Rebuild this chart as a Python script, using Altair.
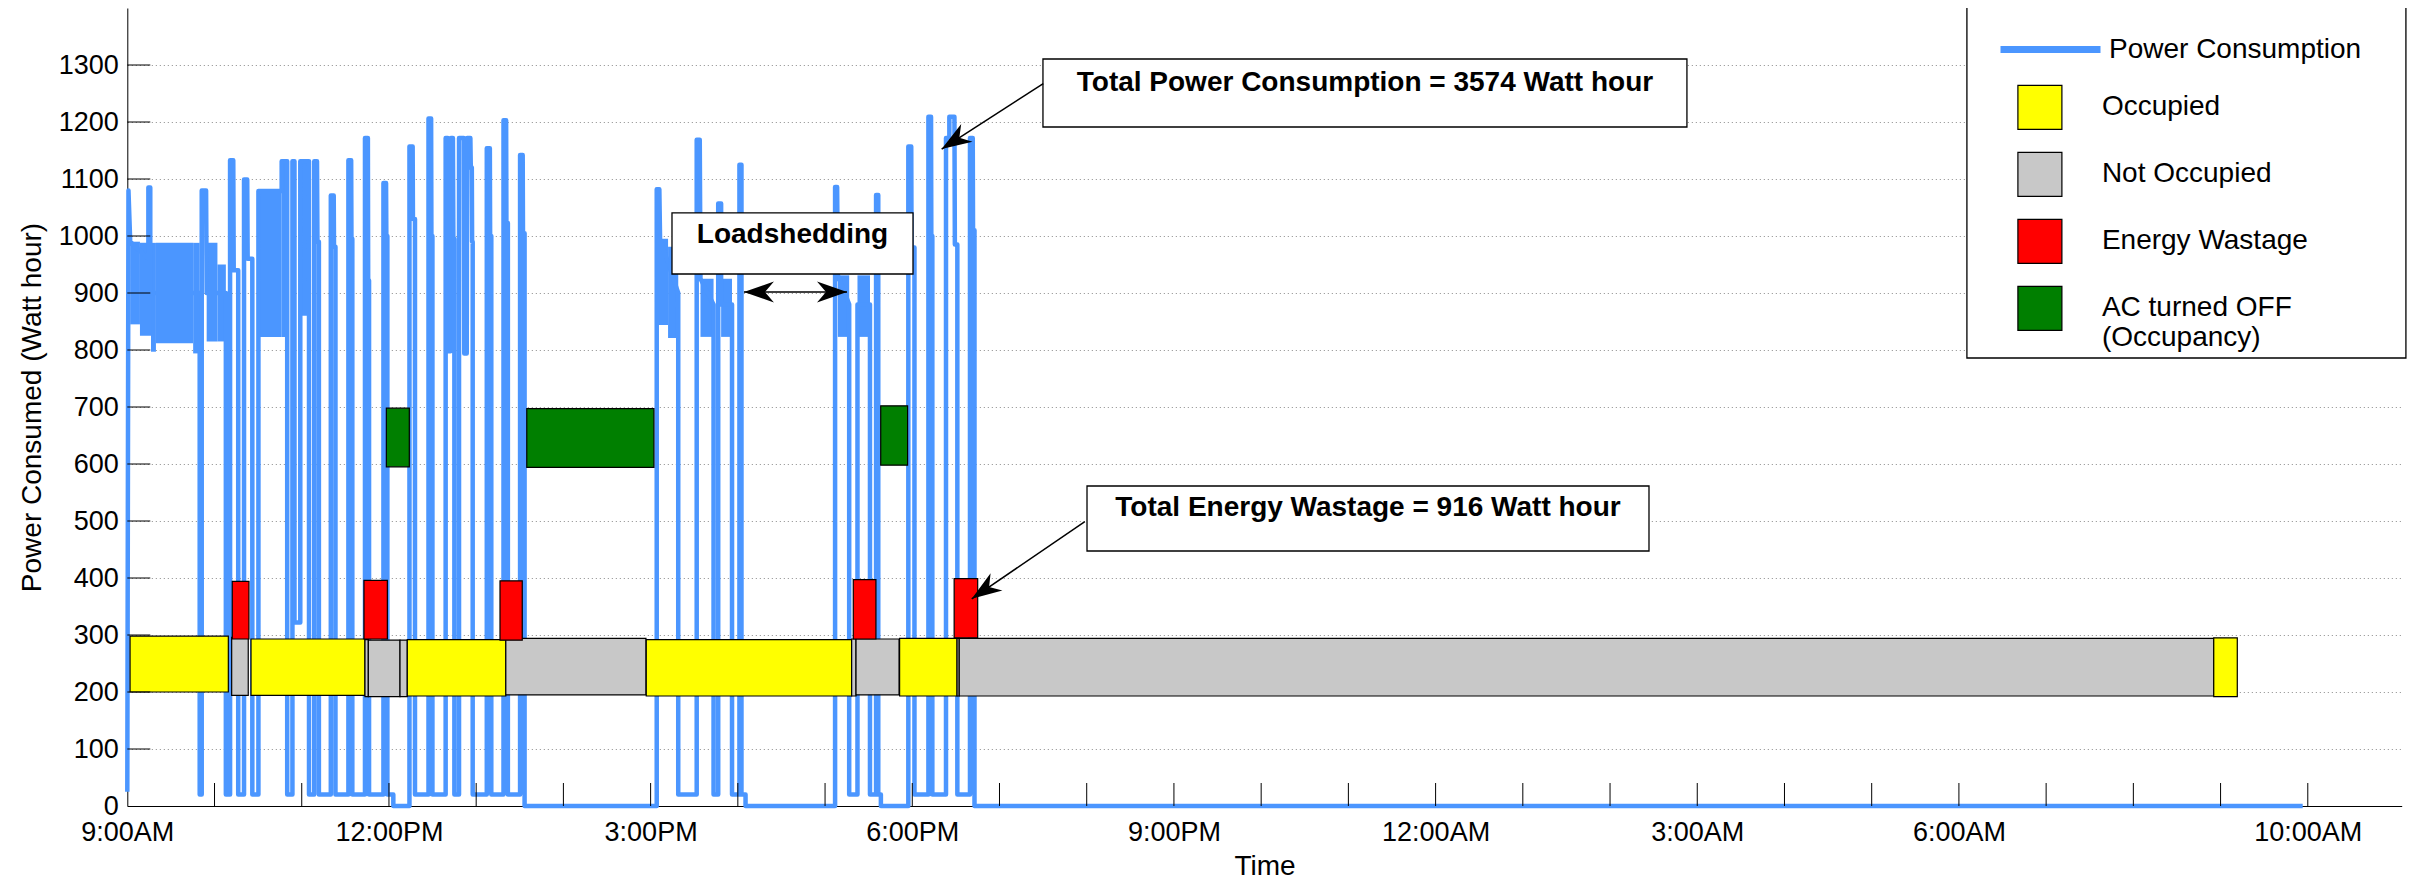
import altair as alt
import pandas as pd

FONT = "Liberation Sans, Arial, Helvetica, sans-serif"
BLUE = "#4B96FF"
START = pd.Timestamp("2014-01-01 09:00:00")

# ---------------- data (time in minutes after 9:00 AM) ----------------
power_minutes = [
    0.0, 0.8, 2.0, 14.5, 14.5, 15.8, 15.8, 49.8, 49.8, 51.2, 51.2, 54.2, 54.6, 67.8, 67.8,
    70.7, 70.7, 72.9, 73.2, 76.3, 76.3,
    80.3, 80.3, 82.5, 82.8, 86.0, 86.0,
    90.2, 90.2, 106.2, 106.2, 110.0, 110.0, 113.6, 113.6, 115.0, 115.0, 119.0, 119.0, 125.0, 125.0,
    128.6, 128.6, 130.5, 130.8, 131.8, 131.8,
    140.0, 140.0, 142.0, 142.2, 143.2, 143.2,
    152.1, 152.1, 154.0, 154.2, 154.8, 154.8,
    163.5, 163.5, 165.5, 165.7, 166.3, 166.3,
    176.2, 176.2, 178.0, 178.2, 178.9, 178.9,
    183.0, 183.0,
    194.1, 194.1, 196.3, 196.5, 197.9, 197.9,
    207.2, 207.2, 209.0, 209.2, 209.9, 209.9,
    219.0, 219.0, 220.5, 220.8, 222.3, 222.6, 224.0, 224.3, 225.0, 225.0,
    228.2, 228.2, 231.5, 231.8, 233.5, 233.8, 236.0, 236.3, 237.0, 237.2, 237.6, 237.6,
    247.3, 247.3, 249.4, 249.6, 250.4, 250.4,
    258.8, 258.8, 260.6, 260.8, 261.8, 261.8,
    270.2, 270.2, 272.0, 272.2, 273.3, 273.3,
    364.2, 364.2, 366.0, 366.5, 379.0, 379.0,
    391.7, 391.7, 393.8, 394.3, 403.3, 403.3, 406.5, 406.5, 408.5, 408.5, 416.0, 416.0,
    421.1, 421.1, 422.5, 422.5, 425.3, 425.3,
    486.9, 486.9, 488.3, 488.8, 496.6, 496.6, 502.3, 502.3, 510.9, 510.9,
    515.1, 515.1, 516.6, 516.6, 518.4, 518.4,
    537.3, 537.3, 539.3, 539.5, 541.5, 541.5,
    551.1, 551.1, 552.9, 553.1, 553.8, 553.8,
    563.2, 563.2, 565.5, 565.5, 569.0, 569.3, 571.0, 571.0,
    579.7, 579.7, 581.6, 581.8, 582.8, 582.8, 1496.5,
]
power_watts = [
    25, 1080, 990, 960, 1085, 1085, 900, 900, 20, 20, 1080, 1080, 900, 900, 20,
    20, 1133, 1133, 940, 940, 20,
    20, 1099, 1099, 960, 960, 20,
    20, 1079, 1079, 1131, 1131, 20, 20, 1131, 1131, 322, 322, 1131, 1131, 20,
    20, 1131, 1131, 990, 990, 20,
    20, 1071, 1071, 981, 981, 20,
    20, 1133, 1133, 995, 995, 20,
    20, 1172, 1172, 922, 922, 20,
    20, 1093, 1093, 1000, 1000, 20,
    20, 0,
    0, 1157, 1157, 1030, 1030, 20,
    20, 1206, 1206, 1000, 1000, 20,
    20, 1172, 1172, 798, 798, 1172, 1172, 995, 995, 20,
    20, 1172, 1172, 794, 794, 1172, 1172, 1120, 1120, 990, 990, 20,
    20, 1154, 1154, 1000, 1000, 20,
    20, 1203, 1203, 1023, 1023, 20,
    20, 1142, 1142, 1005, 1005, 0,
    0, 1082, 1082, 995, 900, 20,
    20, 1169, 1169, 925, 880, 20, 20, 1057, 1057, 880, 880, 20,
    20, 1125, 1125, 20, 20, 0,
    0, 1086, 1086, 931, 880, 20, 20, 880, 880, 20,
    20, 1072, 1072, 20, 20, 0,
    0, 1157, 1157, 980, 980, 20,
    20, 1209, 1209, 1000, 1000, 20,
    20, 1172, 1172, 1209, 1209, 985, 985, 20,
    20, 1172, 1172, 1010, 1010, 0, 0,
]

# dense high-frequency stretches of the consumption trace (min/max envelope)
band_start = [2.0, 8.7, 16.3, 19.7, 45.3, 54.6, 62.0, 90.2, 106.2, 119.0, 364.2, 372.0, 394.3, 408.5, 488.8, 502.3]
band_end = [8.7, 16.3, 19.7, 45.3, 49.8, 62.0, 67.8, 106.2, 110.0, 125.0, 372.0, 379.0, 403.3, 416.0, 496.6, 510.9]
band_low = [845, 825, 797, 812, 794, 815, 815, 823, 823, 860, 844, 821, 823, 823, 823, 823]
band_high = [990, 988, 988, 988, 988, 988, 950, 1079, 1131, 1131, 995, 981, 925, 925, 931, 931]

kinds = ["Occupied", "Not Occupied", "Energy Wastage", "AC turned OFF (Occupancy)"]
kind_colors = ["#FFFF00", "#C8C8C8", "#FF0000", "#007F00"]

bar_kind = [
    "Occupied", "Not Occupied", "Occupied", "Not Occupied", "Not Occupied", "Not Occupied",
    "Occupied", "Not Occupied", "Occupied", "Not Occupied", "Not Occupied", "Occupied",
    "Not Occupied", "Not Occupied", "Occupied",
    "Energy Wastage", "Energy Wastage", "Energy Wastage", "Energy Wastage", "Energy Wastage",
    "AC turned OFF (Occupancy)", "AC turned OFF (Occupancy)", "AC turned OFF (Occupancy)",
]
bar_start = [1.9, 71.8, 85.1, 163.5, 165.8, 187.6, 192.6, 260.4, 357.0, 498.3, 501.3, 531.3,
             570.8, 572.3, 1435.3, 72.2, 162.8, 256.4, 499.4, 568.8, 178.2, 274.8, 518.3]
bar_end = [69.5, 83.2, 163.5, 165.8, 187.6, 192.6, 260.4, 356.8, 498.3, 501.3, 530.9, 570.8,
           572.3, 1435.3, 1451.5, 83.7, 178.9, 271.7, 515.0, 585.0, 194.0, 362.3, 536.8]
bar_low = [200, 194, 194, 192, 192, 192, 193, 195, 193, 193, 195, 193,
           193, 193, 192, 293, 293, 291, 293, 295, 595, 594, 598]
bar_high = [298, 296, 293, 292, 291, 291, 292, 294, 292, 293, 293, 294,
            294, 294, 295, 394, 396, 395, 397, 399, 698, 697, 702]

# annotations
note_text = ["Total Power Consumption = 3574 Watt hour", "Total Energy Wastage = 916 Watt hour", "Loadshedding"]
note_text_min = [851.4, 853.5, 457.6]
note_text_w = [1268.4, 522.8, 1000.9]
box_start = [629.9, 660.2, 374.7, 1265.5]
box_end = [1072.9, 1046.8, 540.5, 1567.5]
box_low = [1191.2, 447.4, 933.3, 786.0]
box_high = [1310.5, 561.4, 1040.4, 1403.5]
arrow_from_min = [630.1, 658.7, 424.2]
arrow_from_w = [1267.2, 498.8, 901.8]
arrow_to_min = [560.2, 580.9, 495.1]
arrow_to_w = [1152.6, 363.5, 901.8]
head_min = [560.2, 580.9, 424.2, 495.1]
head_w = [1152.6, 363.5, 901.8, 901.8]
head_angle = [147.3, 145.7, 180, 0]

x_label_minutes = [0, 180, 360, 540, 720, 900, 1080, 1260, 1500]
x_tick_minutes = [60 * h for h in range(1, 26)]
y_tick_values = list(range(100, 1400, 100))
x_domain_minutes = [0, 1564.6]


def clock(m):
    return (START + pd.Timedelta(minutes=float(m))).strftime("%Y-%m-%dT%H:%M:%S")


def dtobj(m):
    t = START + pd.Timedelta(minutes=float(m))
    return alt.DateTime(year=t.year, month=t.month, date=t.day, hours=t.hour,
                        minutes=t.minute, seconds=t.second)


power = pd.DataFrame({
    "time": [clock(m) for m in power_minutes],
    "watts": power_watts,
    "idx": list(range(len(power_minutes))),
    "series": ["Power Consumption"] * len(power_minutes),
})
bands = pd.DataFrame({
    "time": [clock(m) for m in band_start], "time_end": [clock(m) for m in band_end],
    "watts": band_low, "watts_top": band_high,
})
bars = pd.DataFrame({
    "kind": bar_kind,
    "time": [clock(m) for m in bar_start], "time_end": [clock(m) for m in bar_end],
    "watts": bar_low, "watts_top": bar_high,
})
boxes = pd.DataFrame({
    "time": [clock(m) for m in box_start], "time_end": [clock(m) for m in box_end],
    "watts": box_low, "watts_top": box_high,
})
notes = pd.DataFrame({"time": [clock(m) for m in note_text_min], "watts": note_text_w, "text": note_text})
arrows = pd.DataFrame({
    "time": [clock(m) for m in arrow_from_min], "watts": arrow_from_w,
    "time_end": [clock(m) for m in arrow_to_min], "watts_top": arrow_to_w,
})
heads = pd.DataFrame({"time": [clock(m) for m in head_min], "watts": head_w, "ang": head_angle})
xticks = pd.DataFrame({"time": [clock(m) for m in x_tick_minutes]})
yticks = pd.DataFrame({"watts": y_tick_values})

XSCALE = alt.Scale(domain=[dtobj(m) for m in x_domain_minutes], nice=False)
YSCALE = alt.Scale(domain=[0, 1400], nice=False, zero=False)
XAXIS = alt.Axis(
    values=[dtobj(m) for m in x_label_minutes], format="%-I:%M%p", ticks=False,
    labelPadding=13, labelFontSize=27, labelFlush=False, labelOverlap=False,
    title="Time", titleFontSize=28, titleFontWeight="normal", titlePadding=7, grid=False,
)
YAXIS = alt.Axis(
    values=list(range(0, 1400, 100)), format="d", ticks=False, labelPadding=9, labelFontSize=27,
    title="Power Consumed (Watt hour)", titleFontSize=28, titleFontWeight="normal",
    titlePadding=12, grid=True, gridDash=[1, 3], gridColor="#8a8a8a", gridWidth=1,
)


def X(f="time"):
    return alt.X(f"{f}:T", scale=XSCALE, axis=XAXIS)


def Y(f="watts"):
    return alt.Y(f"{f}:Q", scale=YSCALE, axis=YAXIS)


band_layer = alt.Chart(bands).mark_rect(color=BLUE).encode(
    x=X(), x2="time_end:T", y=Y(), y2="watts_top:Q")

line_layer = alt.Chart(power).mark_line(strokeWidth=4.5, strokeJoin="round").encode(
    x=X(), y=Y(), order="idx:Q",
    stroke=alt.Stroke("series:N", scale=alt.Scale(domain=["Power Consumption"], range=[BLUE]),
                      legend=alt.Legend(title=None, orient="none", legendX=1869.7, legendY=-12,
                                        symbolType="stroke", symbolSize=10000, symbolStrokeWidth=7,
                                        labelFontSize=28, labelOffset=5, labelLimit=600, padding=0)),
)

bar_layer = alt.Chart(bars).mark_rect(stroke="black", strokeWidth=1.2).encode(
    x=X(), x2="time_end:T", y=Y(), y2="watts_top:Q",
    fill=alt.Fill("kind:N", scale=alt.Scale(domain=kinds, range=kind_colors),
                  legend=alt.Legend(title=None, orient="none", legendX=1889.6, legendY=76.4,
                                    symbolType="square", symbolSize=1936, symbolStrokeColor="black",
                                    symbolStrokeWidth=1.2, symbolOpacity=1, labelFontSize=28,
                                    labelOffset=39, labelLimit=600, rowPadding=17, padding=0,
                                    labelExpr="datum.label == 'AC turned OFF (Occupancy)' ? ['AC turned OFF', '(Occupancy)'] : datum.label")),
)

xtick_layer = alt.Chart(xticks).mark_rule(color="black", strokeWidth=1).encode(
    x=X(), y=alt.value(798), y2=alt.value(775))
ytick_layer = alt.Chart(yticks).mark_rule(color="black", strokeWidth=1).encode(
    y=Y(), x=alt.value(0), x2=alt.value(23))

box_layer = alt.Chart(boxes).mark_rect(fill="white", stroke="black", strokeWidth=1.3).encode(
    x=X(), x2="time_end:T", y=Y(), y2="watts_top:Q")
note_layer = alt.Chart(notes).mark_text(font=FONT, fontSize=28, fontWeight="bold", align="center",
                                        baseline="middle", color="black").encode(
    x=X(), y=Y(), text="text:N")
arrow_layer = alt.Chart(arrows).mark_rule(color="black", strokeWidth=1.5).encode(
    x=X(), y=Y(), x2="time_end:T", y2="watts_top:Q")
head_layer = alt.Chart(heads).mark_point(
    shape="M0,0L-2,-0.7L-1.4,0L-2,0.7Z", filled=True, color="black", size=900, opacity=1).encode(
    x=X(), y=Y(), angle=alt.Angle("ang:Q", scale=None))

chart = alt.layer(
    band_layer, line_layer, bar_layer, xtick_layer, ytick_layer,
    box_layer, note_layer, arrow_layer, head_layer,
).properties(
    width=2274.4, height=798,
    padding={"left": 119.3, "top": 0, "right": 9.3, "bottom": 74},
    autosize=alt.AutoSizeParams(type="none"),
    background="white",
).configure_view(strokeWidth=0).configure_axis(
    labelFont=FONT, titleFont=FONT, labelColor="black", titleColor="black",
    domainColor="black", domainWidth=1,
).configure_legend(labelFont=FONT, labelColor="black")

chart.save("out.html", embed_options={"renderer": "svg", "actions": False})
